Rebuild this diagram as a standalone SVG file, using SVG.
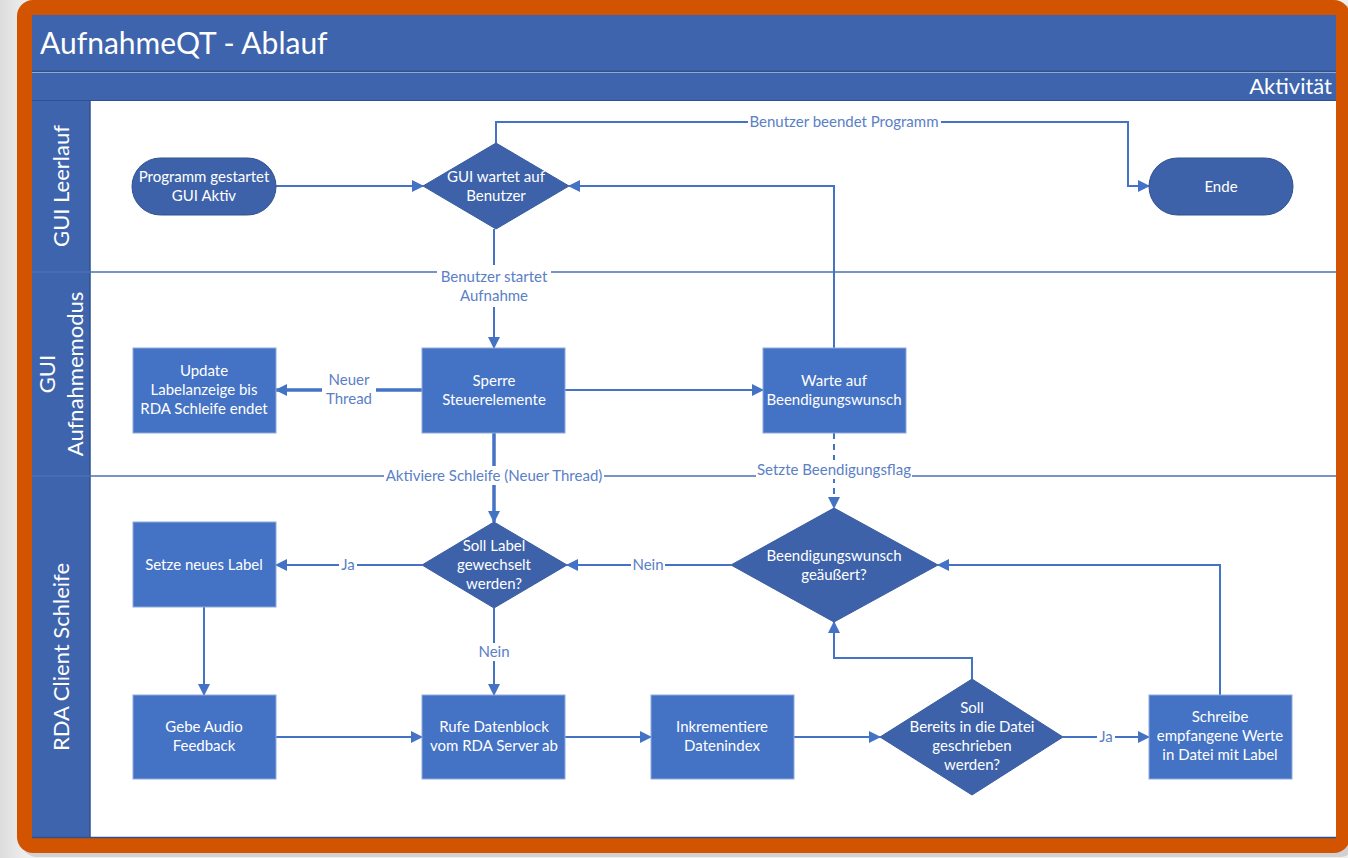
<svg xmlns="http://www.w3.org/2000/svg" width="1348" height="858" viewBox="0 0 1348 858">
<defs>
<style>
.lane{fill:#3E64AD;}
.term{fill:#3D62AA;stroke:#2F528F;stroke-width:1;}
.dia{fill:#3D62AA;stroke:#3A5DA0;stroke-width:1;}
.box{fill:#4472C4;stroke:#8FAADC;stroke-width:1;}
.nt{font-family:Lato,"Open Sans",sans-serif;font-size:15px;fill:#FFFFFF;text-anchor:middle;}
.ct{font-family:Lato,"Open Sans",sans-serif;font-size:15px;fill:#5A80C6;text-anchor:middle;}
.lt{font-family:Lato,"Open Sans",sans-serif;font-size:22px;fill:#FFFFFF;text-anchor:middle;}
.cn{fill:none;stroke:#4472C4;stroke-width:2;}
.lbg{fill:#FFFFFF;}
.div{stroke:#4A6FB5;stroke-width:1.5;}
</style>
<marker id="ah" markerWidth="12" markerHeight="12" refX="11" refY="6" orient="auto" markerUnits="userSpaceOnUse">
<path d="M0,0 L12,6 L0,12 Z" fill="#4472C4"/>
</marker>
<linearGradient id="bg" x1="0" y1="0" x2="1" y2="0">
<stop offset="0" stop-color="#DCDCDC"/>
<stop offset="0.02" stop-color="#EFEFEF"/>
<stop offset="1" stop-color="#EFEFEF"/>
</linearGradient>
</defs>
<rect x="0" y="0" width="1348" height="858" fill="url(#bg)"/>
<rect x="21" y="4" width="1335" height="853" rx="16" fill="#BDBDBD" opacity="0.6"/>
<rect x="17" y="0" width="1333" height="853" rx="16" fill="#D35400"/>
<g id="pool">
<rect x="32" y="15" width="1304" height="823" fill="#FFFFFF"/>
<rect x="32" y="15" width="1304" height="57" class="lane"/>
<line x1="32" y1="71.5" x2="1336" y2="71.5" stroke="#2F528F" stroke-width="2"/>
<rect x="32" y="73" width="1304" height="28" class="lane"/>
<line x1="32" y1="100.5" x2="1336" y2="100.5" stroke="#2F528F" stroke-width="1"/>
<rect x="32" y="101" width="58" height="737" class="lane"/>
<line x1="90" y1="101" x2="90" y2="838" stroke="#2F528F" stroke-width="1.5"/>
<line x1="32" y1="837.5" x2="1336" y2="837.5" stroke="#2F528F" stroke-width="1.5"/>
<line x1="32" y1="272" x2="1336" y2="272" class="div"/>
<line x1="32" y1="476" x2="1336" y2="476" class="div"/>
<text x="40" y="54" font-family="Lato,'Open Sans',sans-serif" font-size="30" fill="#FFFFFF">AufnahmeQT - Ablauf</text>
<text x="1332" y="94" font-family="Lato,'Open Sans',sans-serif" font-size="22" fill="#FFFFFF" text-anchor="end">Aktivität</text>
<text class="lt" transform="translate(69,186) rotate(-90)">GUI Leerlauf</text>
<text class="lt" transform="translate(55,374) rotate(-90)">GUI</text>
<text class="lt" transform="translate(83,374) rotate(-90)">Aufnahmemodus</text>
<text class="lt" transform="translate(69,657) rotate(-90)">RDA Client Schleife</text>
</g>
<g id="connectors">
<line x1="276" y1="186" x2="423" y2="186" class="cn" marker-end="url(#ah)"/>
<polyline points="496,143 496,122 1128,122 1128,186 1149,186" class="cn" marker-end="url(#ah)"/>
<rect x="748" y="112" width="193" height="19" class="lbg"/>
<text x="844" y="127" class="ct">Benutzer beendet Programm</text>
<line x1="494" y1="229" x2="494" y2="348" class="cn" marker-end="url(#ah)"/>
<rect x="437" y="265" width="114" height="42" class="lbg"/>
<text x="494" y="282" class="ct">Benutzer startet</text>
<text x="494" y="301" class="ct">Aufnahme</text>
<line x1="422" y1="390" x2="276" y2="390" stroke="#4472C4" stroke-width="3.5" marker-end="url(#ah)"/>
<rect x="322" y="370" width="54" height="40" class="lbg"/>
<text x="349" y="385" class="ct">Neuer</text>
<text x="349" y="404" class="ct">Thread</text>
<line x1="565" y1="390" x2="763" y2="390" class="cn" marker-end="url(#ah)"/>
<polyline points="834,348 834,186 569,186" class="cn" marker-end="url(#ah)"/>
<line x1="494" y1="433" x2="494" y2="522" stroke="#4472C4" stroke-width="3.5" marker-end="url(#ah)"/>
<rect x="384" y="466" width="220" height="19" class="lbg"/>
<text x="494" y="481" class="ct">Aktiviere Schleife (Neuer Thread)</text>
<line x1="834" y1="433" x2="834" y2="508" class="cn" stroke-dasharray="6,5" marker-end="url(#ah)"/>
<rect x="756" y="460" width="156" height="19" class="lbg"/>
<text x="834" y="475" class="ct">Setzte Beendigungsflag</text>
<line x1="731" y1="565" x2="567" y2="565" class="cn" marker-end="url(#ah)"/>
<rect x="631" y="556" width="34" height="18" class="lbg"/>
<text x="648" y="570" class="ct">Nein</text>
<line x1="422" y1="565" x2="276" y2="565" class="cn" marker-end="url(#ah)"/>
<rect x="339" y="556" width="18" height="18" class="lbg"/>
<text x="348" y="570" class="ct">Ja</text>
<line x1="494" y1="608" x2="494" y2="695" class="cn" marker-end="url(#ah)"/>
<rect x="475" y="643" width="38" height="18" class="lbg"/>
<text x="494" y="657" class="ct">Nein</text>
<line x1="204" y1="607" x2="204" y2="695" class="cn" marker-end="url(#ah)"/>
<line x1="276" y1="737" x2="422" y2="737" class="cn" marker-end="url(#ah)"/>
<line x1="565" y1="737" x2="651" y2="737" class="cn" marker-end="url(#ah)"/>
<line x1="794" y1="737" x2="880" y2="737" class="cn" marker-end="url(#ah)"/>
<line x1="1063" y1="737" x2="1149" y2="737" class="cn" marker-end="url(#ah)"/>
<rect x="1097" y="728" width="18" height="18" class="lbg"/>
<text x="1106" y="742" class="ct">Ja</text>
<polyline points="972,679 972,658 834,658 834,622" class="cn" marker-end="url(#ah)"/>
<polyline points="1220,695 1220,565 938,565" class="cn" marker-end="url(#ah)"/>
</g>
<g id="n_start">
<rect x="132" y="158" width="144" height="57" rx="28.5" class="term"/>
<text x="204" y="182" class="nt">Programm gestartet</text>
<text x="204" y="201" class="nt">GUI Aktiv</text>
</g>
<g id="n_wait_user">
<polygon points="496,143 569,186 496,229 423,186" class="dia"/>
<text x="496" y="182" class="nt">GUI wartet auf</text>
<text x="496" y="201" class="nt">Benutzer</text>
</g>
<g id="n_end">
<rect x="1149" y="158" width="144" height="57" rx="28.5" class="term"/>
<text x="1221" y="192" class="nt">Ende</text>
</g>
<g id="n_update">
<rect x="133" y="348" width="143" height="85" class="box"/>
<text x="204" y="376" class="nt">Update</text>
<text x="204" y="395" class="nt">Labelanzeige bis</text>
<text x="204" y="414" class="nt">RDA Schleife endet</text>
</g>
<g id="n_sperre">
<rect x="422" y="348" width="143" height="85" class="box"/>
<text x="494" y="386" class="nt">Sperre</text>
<text x="494" y="405" class="nt">Steuerelemente</text>
</g>
<g id="n_warte">
<rect x="763" y="348" width="143" height="85" class="box"/>
<text x="834" y="386" class="nt">Warte auf</text>
<text x="834" y="405" class="nt">Beendigungswunsch</text>
</g>
<g id="n_setze">
<rect x="133" y="522" width="143" height="85" class="box"/>
<text x="204" y="570" class="nt">Setze neues Label</text>
</g>
<g id="n_soll_label">
<polygon points="494,522 567,565 494,608 422,565" class="dia"/>
<text x="494" y="551" class="nt">Soll Label</text>
<text x="494" y="570" class="nt">gewechselt</text>
<text x="494" y="589" class="nt">werden?</text>
</g>
<g id="n_beendigung">
<polygon points="834,508 938,565 834,622 731,565" class="dia"/>
<text x="834" y="561" class="nt">Beendigungswunsch</text>
<text x="834" y="580" class="nt">geäußert?</text>
</g>
<g id="n_gebe">
<rect x="133" y="695" width="143" height="84" class="box"/>
<text x="204" y="732" class="nt">Gebe Audio</text>
<text x="204" y="751" class="nt">Feedback</text>
</g>
<g id="n_rufe">
<rect x="422" y="695" width="143" height="84" class="box"/>
<text x="494" y="732" class="nt">Rufe Datenblock</text>
<text x="494" y="751" class="nt">vom RDA Server ab</text>
</g>
<g id="n_inkr">
<rect x="651" y="695" width="143" height="84" class="box"/>
<text x="722" y="732" class="nt">Inkrementiere</text>
<text x="722" y="751" class="nt">Datenindex</text>
</g>
<g id="n_soll_bereits">
<polygon points="972,679 1063,737 972,795 880,737" class="dia"/>
<text x="972" y="713" class="nt">Soll</text>
<text x="972" y="732" class="nt">Bereits in die Datei</text>
<text x="972" y="751" class="nt">geschrieben</text>
<text x="972" y="770" class="nt">werden?</text>
</g>
<g id="n_schreibe">
<rect x="1149" y="695" width="143" height="84" class="box"/>
<text x="1220" y="722" class="nt">Schreibe</text>
<text x="1220" y="741" class="nt">empfangene Werte</text>
<text x="1220" y="760" class="nt">in Datei mit Label</text>
</g>
</svg>
